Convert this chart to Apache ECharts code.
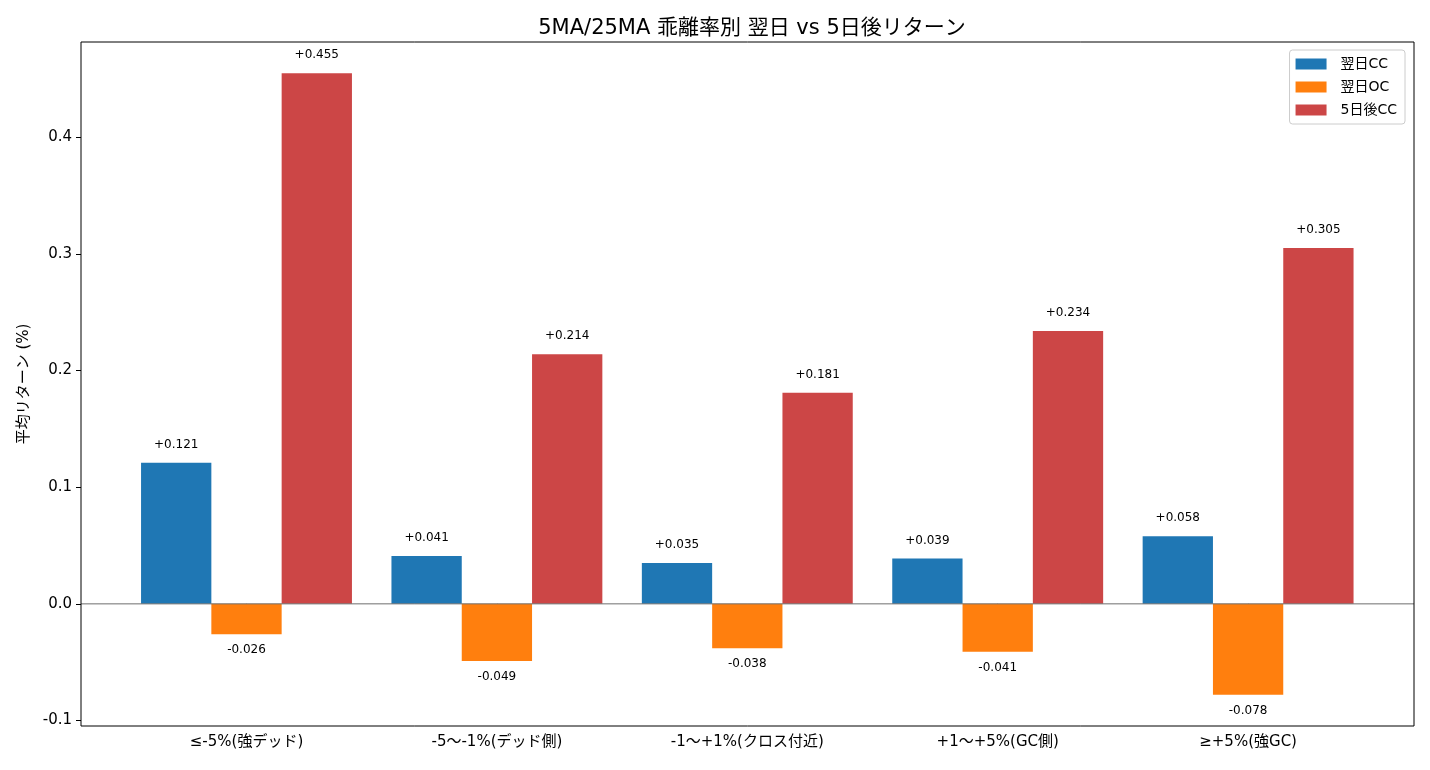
<!DOCTYPE html>
<html>
<head>
<meta charset="utf-8">
<script src="https://cdn.jsdelivr.net/npm/echarts@6/dist/echarts.min.js"></script>
<style>
  html, body { margin: 0; padding: 0; background: #fff; }
  #chart { width: 1430px; height: 770px; }
</style>
</head>
<body>
<div id="chart"></div>
<script>
// data
const categories = ['≤-5%(強デッド)', '-5〜-1%(デッド側)', '-1〜+1%(クロス付近)', '+1〜+5%(GC側)', '≥+5%(強GC)'];
const nextCC = [0.121, 0.041, 0.035, 0.039, 0.058];
const nextOC = [-0.026, -0.049, -0.038, -0.041, -0.078];
const day5CC = [0.455, 0.214, 0.181, 0.234, 0.305];
const yTicks = [-0.1, 0.0, 0.1, 0.2, 0.3, 0.4];

const FONT = '"DejaVu Sans", "Noto Sans CJK JP", sans-serif';

function signed(v) {
  return (v >= 0 ? '+' : '') + v.toFixed(3);
}

function barSeries(name, data, color, pos) {
  return {
    name: name,
    type: 'bar',
    data: data,
    barWidth: 70.3,
    barGap: '0%',
    itemStyle: { color: color },
    label: {
      show: true,
      position: pos,
      distance: pos === 'top' ? 12 : 10,
      color: '#000',
      fontSize: 12,
      fontFamily: FONT,
      formatter: p => signed(p.value)
    }
  };
}

const chart = echarts.init(document.getElementById('chart'));
chart.setOption({
  animation: false,
  backgroundColor: '#fff',
  textStyle: { fontFamily: FONT },
  title: {
    text: '5MA/25MA 乖離率別 翌日 vs 5日後リターン',
    left: 747,
    textAlign: 'center',
    top: 13,
    textStyle: { fontSize: 21, fontWeight: 'normal', color: '#000', fontFamily: FONT }
  },
  legend: {
    orient: 'vertical',
    right: 25,
    top: 50,
    icon: 'rect',
    itemWidth: 31,
    itemHeight: 11,
    itemGap: 7,
    padding: [6, 8, 6, 6],
    borderColor: '#cccccc',
    borderWidth: 1,
    borderRadius: 3,
    textStyle: { fontSize: 14, color: '#000', fontFamily: FONT, lineHeight: 16, padding: [0, 0, 0, 9] },
    data: ['翌日CC', '翌日OC', '5日後CC']
  },
  grid: { left: 121.3, right: 56.7, top: 42, bottom: 44 },
  xAxis: {
    type: 'category',
    data: categories,
    axisLine: { show: false },
    axisTick: { show: true, alignWithLabel: true, length: 5, lineStyle: { color: '#000' } },
    axisLabel: { color: '#000', fontSize: 15, margin: 9, fontFamily: FONT, interval: 0 }
  },
  yAxis: {
    type: 'value',
    min: -0.1047,
    max: 0.4817,
    offset: 40.3,
    name: '平均リターン (%)',
    nameLocation: 'middle',
    nameGap: 48,
    nameRotate: 90,
    nameTextStyle: { fontSize: 15, color: '#000', fontFamily: FONT },
    splitLine: { show: false },
    axisLine: { show: false },
    axisTick: { show: true, length: 5, customValues: yTicks, lineStyle: { color: '#000' } },
    axisLabel: {
      color: '#000', fontSize: 15, margin: 9, fontFamily: FONT,
      customValues: yTicks,
      formatter: v => v.toFixed(1)
    }
  },
  series: [
    barSeries('翌日CC', nextCC, '#1f77b4', 'top'),
    barSeries('翌日OC', nextOC, '#ff7f0e', 'bottom'),
    barSeries('5日後CC', day5CC, '#cc4646', 'top')
  ]
});

// frame and zero line spanning the full plot box
const y0 = chart.convertToPixel({ yAxisIndex: 0 }, 0);
chart.setOption({
  graphic: [
    {
      type: 'line',
      shape: { x1: 81, y1: y0, x2: 1414, y2: y0 },
      style: { stroke: '#6e6e6e', lineWidth: 1 },
      z: 10
    },
    {
      type: 'rect',
      shape: { x: 81, y: 42, width: 1333, height: 684 },
      style: { fill: null, stroke: '#000', lineWidth: 1 },
      z: 10
    }
  ]
});
</script>
</body>
</html>
